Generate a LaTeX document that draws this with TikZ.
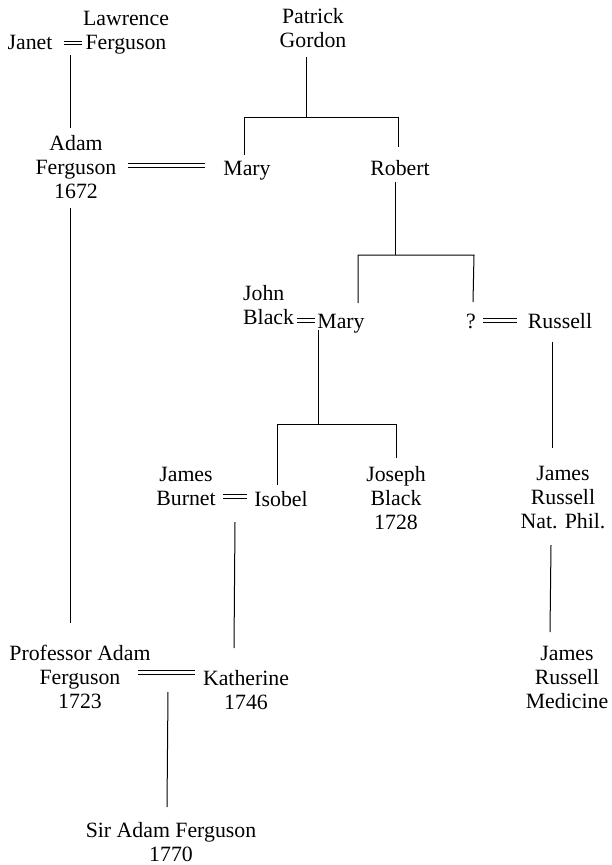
\documentclass[tikz,border=0pt]{standalone}
\usepackage{fontspec}
\setmainfont{Liberation Serif}
\newcommand\gtc[1]{\vtop{\halign{\hfil##\hfil\cr#1\cr}}}
\newcommand\gtl[1]{\vtop{\halign{##\hfil\cr#1\cr}}}
\begin{document}
\begin{tikzpicture}[x=1pt,y=-1pt,
  person/.style={inner sep=0pt,anchor=base,font=\fontsize{21.8}{24}\selectfont},
  line/.style={line width=1pt},
  wed/.style={line width=0.8pt}]
\useasboundingbox (0,0) rectangle (612,865);
% people
\node[person] (lf) at (126,25) {\gtc{Lawrence\cr Ferguson}};
\node[person] (janet) at (30,49) {Janet};
\node[person] (pg) at (313,23) {\gtc{Patrick\cr Gordon}};
\node[person] (af) at (76,150) {\gtc{Adam\cr Ferguson\cr 1672}};
\node[person] (mary1) at (247,175) {Mary};
\node[person] (robert) at (400,175) {Robert};
\node[person,anchor=base west] (jb) at (243,300) {\gtl{John\cr Black}};
\node[person] (mary2) at (341,328) {Mary};
\node[person] (q) at (471,328) {?};
\node[person] (russell) at (560,328) {Russell};
\node[person] (jbu) at (186,481) {\gtc{James\cr Burnet}};
\node[person] (isobel) at (281,506) {Isobel};
\node[person] (joseph) at (396,481) {\gtc{Joseph\cr Black\cr 1728}};
\node[person] (jrn) at (563,480) {\gtc{James\cr Russell\cr Nat. Phil.}};
\node[person] (jrm) at (567,660) {\gtc{James\cr Russell\cr Medicine}};
\node[person] (paf) at (80,660) {\gtc{Professor Adam\cr Ferguson\cr 1723}};
\node[person] (kath) at (246,685) {\gtc{Katherine\cr 1746}};
\node[person] (saf) at (171,837) {\gtc{Sir Adam Ferguson\cr 1770}};
% marriage marks
\coordinate (w1a) at (64,44);  \coordinate (w1b) at (82,44);
\draw[wed] (w1a) -- (w1b) ([yshift=3pt]w1a) -- ([yshift=3pt]w1b);
\coordinate (w2a) at (128,167); \coordinate (w2b) at (205,167);
\draw[wed] (w2a) -- (w2b) ([yshift=4pt]w2a) -- ([yshift=4pt]w2b);
\coordinate (w3a) at (297,322); \coordinate (w3b) at (315,322);
\draw[wed] (w3a) -- (w3b) ([yshift=4pt]w3a) -- ([yshift=4pt]w3b);
\coordinate (w4a) at (483,322); \coordinate (w4b) at (517,322);
\draw[wed] (w4a) -- (w4b) ([yshift=4pt]w4a) -- ([yshift=4pt]w4b);
\coordinate (w5a) at (223,498); \coordinate (w5b) at (247,498);
\draw[wed] (w5a) -- (w5b) ([yshift=4pt]w5a) -- ([yshift=4pt]w5b);
\coordinate (w6a) at (138,674); \coordinate (w6b) at (195,674);
\draw[wed] (w6a) -- (w6b) ([yshift=4pt]w6a) -- ([yshift=4pt]w6b);
% descent lines
\coordinate (d1a) at (70,55);  \coordinate (d1b) at (70,128);
\draw[line] (d1a) -- (d1b);
\coordinate (g0) at (306,57); \coordinate (g1) at (306,117);
\coordinate (gl) at (244,117); \coordinate (gr) at (398,117);
\coordinate (gle) at (244,155); \coordinate (gre) at (398,147);
\draw[line] (g0) -- (g1);
\draw[line] (gle) -- (gl) -- (gr) -- (gre);
\coordinate (r0) at (395,182); \coordinate (r1) at (395,255);
\coordinate (rl) at (358,255); \coordinate (rr) at (474,255);
\coordinate (rle) at (358,303); \coordinate (rre) at (473,302);
\draw[line] (r0) -- (r1);
\draw[line] (rle) -- (rl) -- (rr) -- (rre);
\coordinate (b0) at (318,330); \coordinate (b1) at (318,424);
\coordinate (bl) at (277,424); \coordinate (br) at (396,424);
\coordinate (ble) at (277,485); \coordinate (bre) at (396,458);
\draw[line] (b0) -- (b1);
\draw[line] (ble) -- (bl) -- (br) -- (bre);
\coordinate (ru0) at (552,342); \coordinate (ru1) at (552,448);
\draw[line] (ru0) -- (ru1);
\coordinate (a0) at (70,208); \coordinate (a1) at (70,623);
\draw[line] (a0) -- (a1);
\coordinate (i0) at (235,522); \coordinate (i1) at (234,648);
\draw[line] (i0) -- (i1);
\coordinate (n0) at (551,545); \coordinate (n1) at (550,632);
\draw[line] (n0) -- (n1);
\coordinate (k0) at (168,692); \coordinate (k1) at (167,807);
\draw[line] (k0) -- (k1);
\end{tikzpicture}
\end{document}
